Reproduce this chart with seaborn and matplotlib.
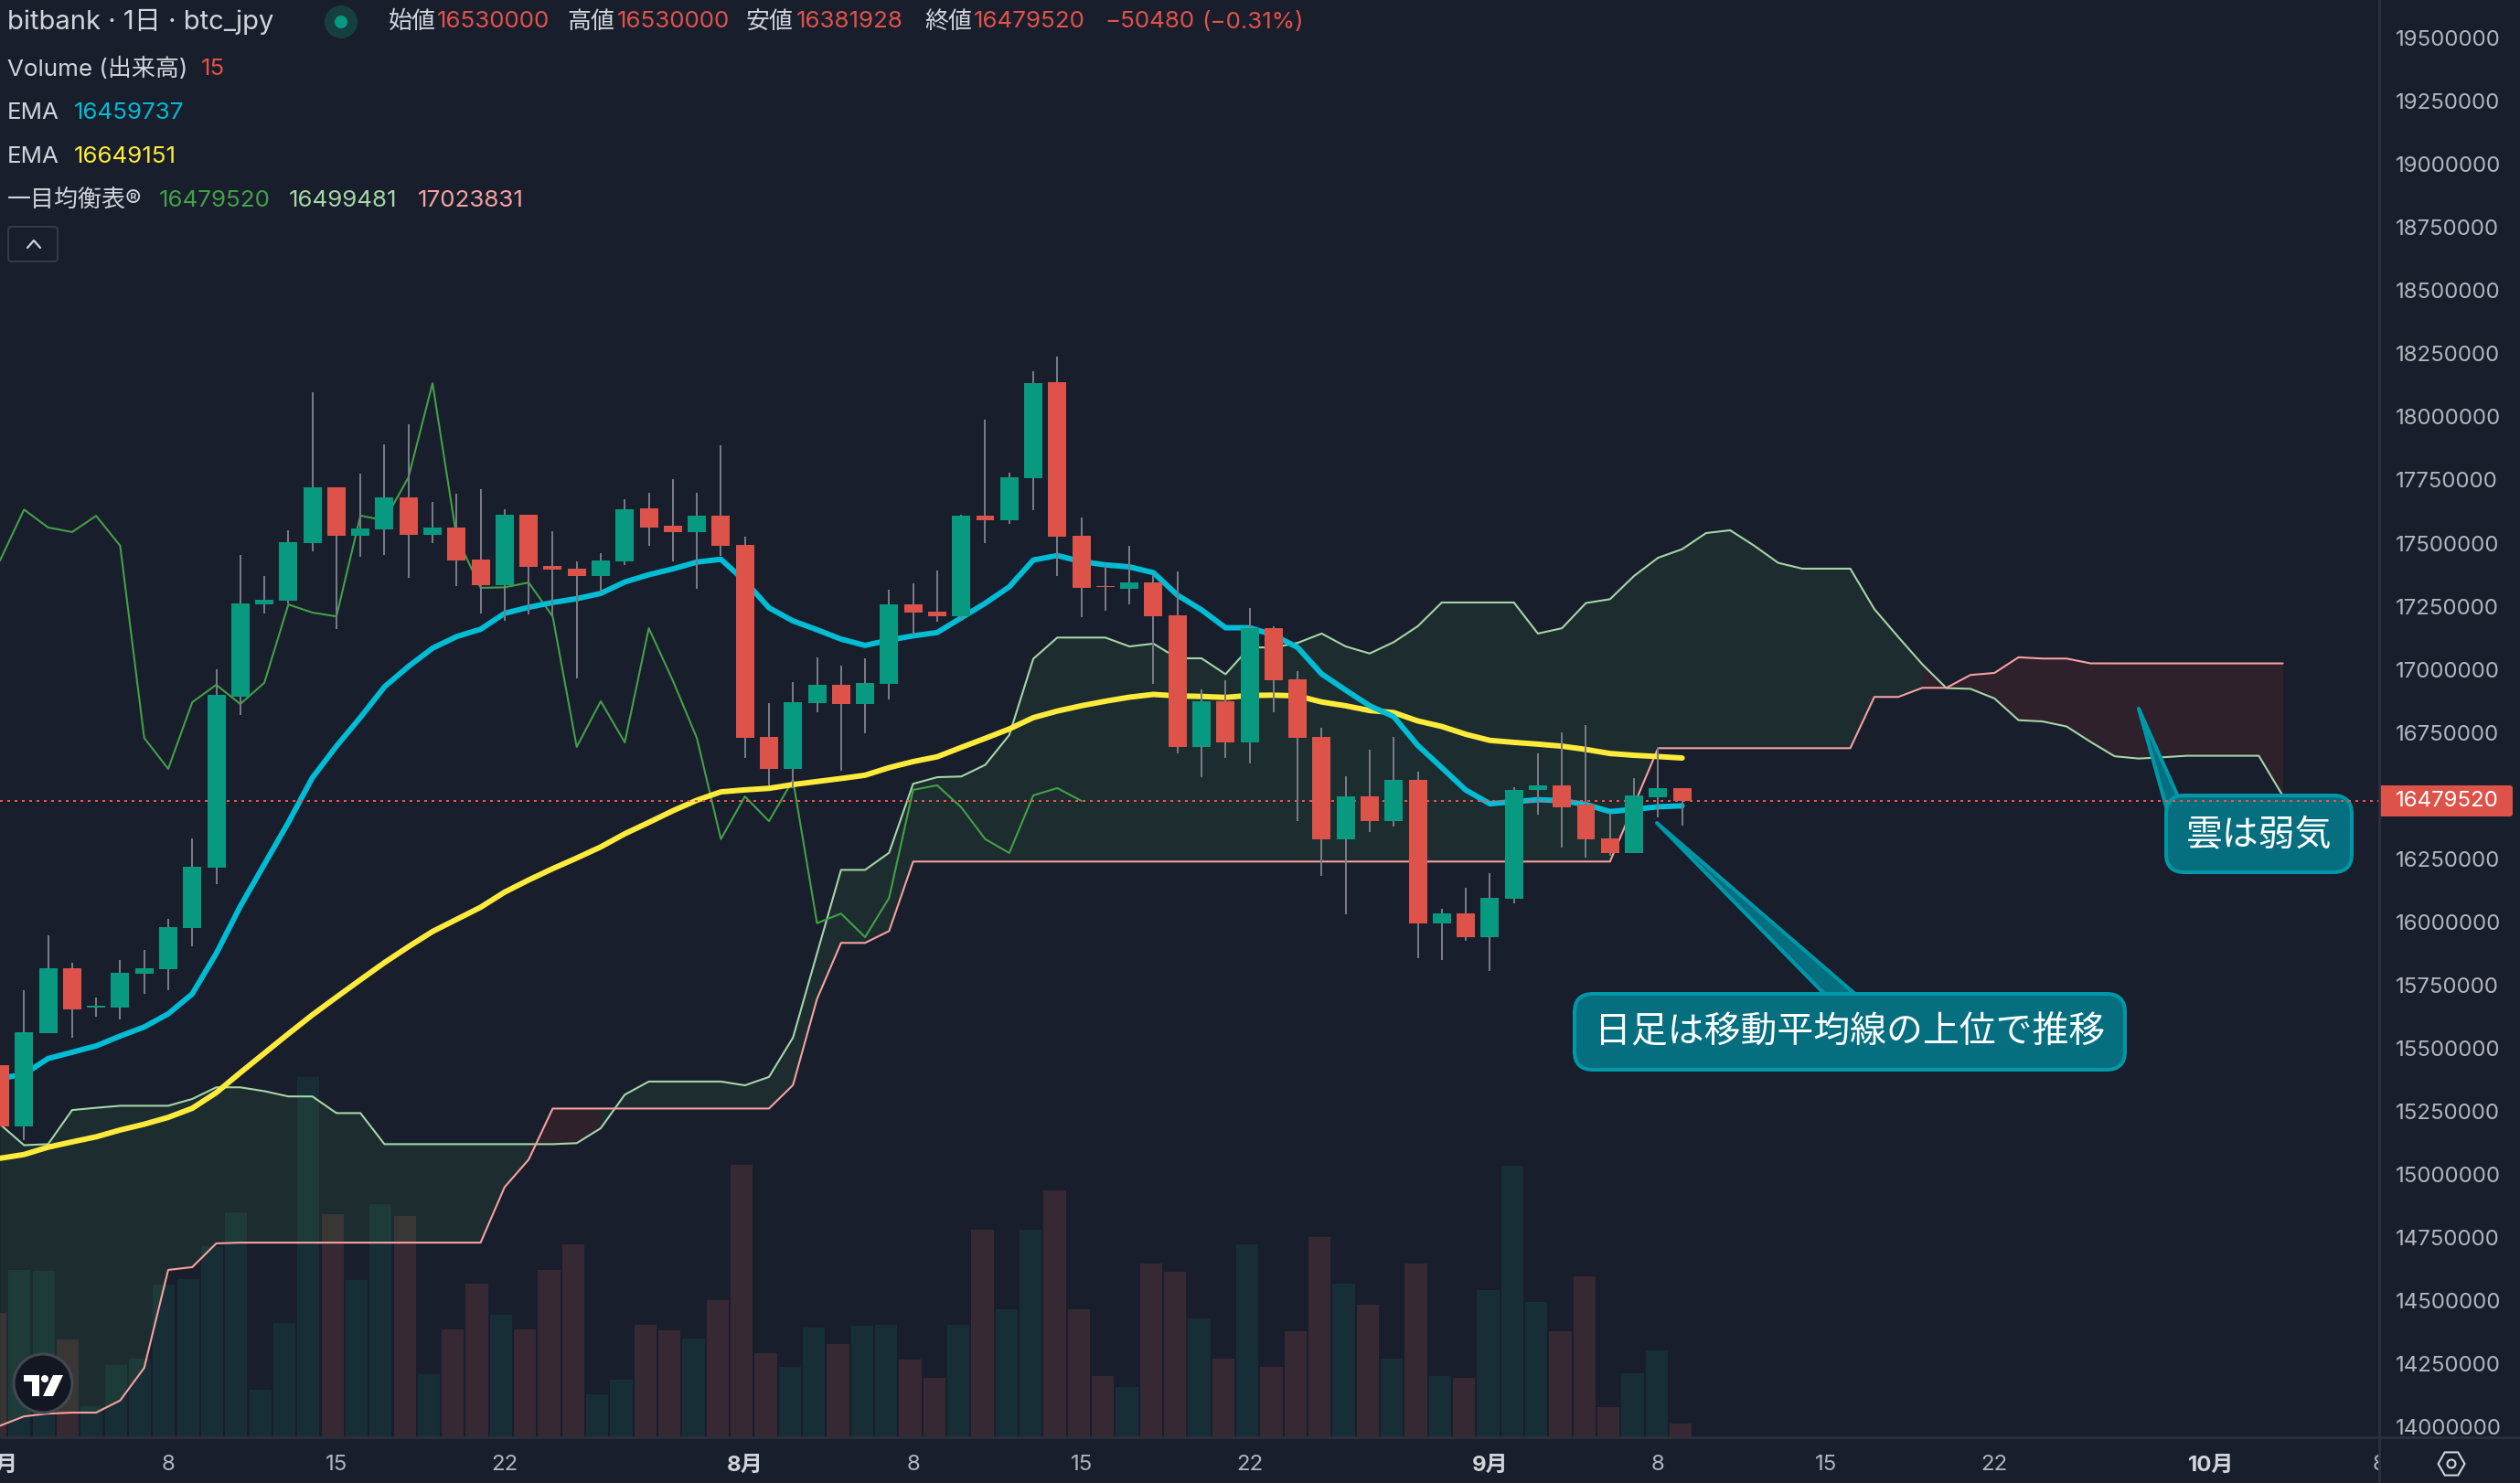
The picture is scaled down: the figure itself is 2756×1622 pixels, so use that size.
import numpy as np
import pandas as pd
import matplotlib
matplotlib.use("Agg")
import matplotlib.pyplot as plt
import seaborn as sns
from matplotlib.patches import FancyBboxPatch, Polygon, Circle, RegularPolygon
from matplotlib.transforms import Affine2D, Bbox, TransformedBbox, IdentityTransform
from matplotlib.lines import Line2D

# daily candles, index 0 = 1 Jul
opens = [15434000, 15189000, 15559000, 15817000, 15661000, 15661000, 15794000, 15812000, 15977000, 16216000,
         16893000, 17257000, 17271000, 17500000, 17720000, 17529000, 17554000, 17681000, 17533000, 17562000,
         17436000, 17334000, 17612000, 17409000, 17398000, 17369000, 17427000, 17637000, 17569000, 17544000,
         17608000, 17494000, 16733000, 16606000, 16866000, 16939000, 16863000, 16942000, 17257000, 17228000,
         17210000, 17609000, 17590000, 17756000, 18138000, 17529000, 17330000, 17318000, 17344000, 17213000,
         16693000, 16874000, 16711000, 17163000, 16961000, 16733000, 16328000, 16497000, 16399000, 16562000,
         15995000, 16033000, 15940000, 16092000, 16523000, 16541000, 16465000, 16331000, 16273000, 16494000,
         16530000]
highs = [15434000, 15729000, 15947000, 15837000, 15700000, 15850000, 15889000, 16012000, 16330000, 17001000,
         17452000, 17369000, 17550000, 18097000, 17720000, 17776000, 17891000, 17970000, 17662000, 17695000,
         17712000, 17633000, 17612000, 17548000, 17427000, 17461000, 17675000, 17700000, 17754000, 17700000,
         17887000, 17525000, 16866000, 16949000, 17047000, 17015000, 17044000, 17315000, 17341000, 17391000,
         17613000, 17989000, 17779000, 18182000, 18238000, 17601000, 17414000, 17490000, 17372000, 17388000,
         16921000, 16956000, 17242000, 17171000, 16994000, 16769000, 16577000, 16682000, 16733000, 16594000,
         16051000, 16135000, 16193000, 16533000, 16667000, 16751000, 16780000, 16433000, 16570000, 16688000,
         16530000]
lows = [15189000, 15137000, 15559000, 15542000, 15625000, 15615000, 15715000, 15729000, 15902000, 16151000,
        16820000, 17222000, 17263000, 17469000, 17161000, 17446000, 17452000, 17361000, 17500000, 17330000,
        17222000, 17192000, 17217000, 17213000, 16964000, 17305000, 17413000, 17490000, 17427000, 17319000,
        17450000, 16650000, 16540000, 16529000, 16831000, 16599000, 16748000, 16880000, 17136000, 17188000,
        17200000, 17499000, 17575000, 17632000, 17370000, 17207000, 17233000, 17257000, 16942000, 16667000,
        16575000, 16649000, 16628000, 16830000, 16399000, 16182000, 16032000, 16357000, 16376000, 15856000,
        15848000, 15925000, 15807000, 16072000, 16425000, 16295000, 16255000, 16263000, 16273000, 16414000,
        16381928]
closes = [15189000, 15563000, 15817000, 15652000, 15667000, 15798000, 15817000, 15979000, 16218000, 16899000,
          17261000, 17276000, 17504000, 17720000, 17529000, 17558000, 17681000, 17533000, 17562000, 17431000,
          17334000, 17612000, 17407000, 17394000, 17369000, 17431000, 17633000, 17562000, 17544000, 17608000,
          17490000, 16729000, 16606000, 16870000, 16939000, 16863000, 16947000, 17257000, 17225000, 17210000,
          17609000, 17590000, 17761000, 18133000, 17525000, 17323000, 17325000, 17344000, 17210000, 16693000,
          16874000, 16711000, 17163000, 16956000, 16728000, 16328000, 16497000, 16399000, 16562000, 15995000,
          16033000, 15940000, 16095000, 16523000, 16541000, 16454000, 16328000, 16273000, 16501000, 16530000,
          16479520]
volumes = [136, 183, 182, 107, 34, 79, 86, 167, 173, 209, 246, 52, 125, 394, 244, 172, 255, 242, 69, 118,
           168, 134, 118, 183, 211, 47, 63, 123, 117, 108, 150, 298, 92, 77, 120, 102, 122, 123, 85, 65,
           123, 227, 140, 227, 270, 140, 67, 55, 190, 181, 130, 86, 211, 77, 116, 219, 168, 145, 86, 190,
           67, 65, 161, 297, 148, 116, 176, 33, 70, 95, 15]
ema_fast = [15380000, 15397000, 15459000, 15484000, 15509000, 15548000, 15584000, 15636000, 15715000, 15875000,
            16062000, 16228000, 16394000, 16571000, 16696000, 16810000, 16931000, 17012000, 17084000, 17130000,
            17159000, 17222000, 17246000, 17265000, 17280000, 17301000, 17346000, 17375000, 17398000, 17425000,
            17436000, 17350000, 17244000, 17192000, 17157000, 17120000, 17095000, 17116000, 17133000, 17146000,
            17204000, 17262000, 17327000, 17433000, 17451000, 17427000, 17414000, 17406000, 17383000, 17294000,
            17236000, 17165000, 17165000, 17136000, 17087000, 16982000, 16918000, 16856000, 16813000, 16699000,
            16611000, 16522000, 16468000, 16476000, 16484000, 16480000, 16465000, 16437000, 16446000, 16456000,
            16459737]
ema_slow = [15064000, 15079000, 15108000, 15129000, 15149000, 15176000, 15199000, 15226000, 15262000, 15324000,
            15403000, 15480000, 15557000, 15632000, 15702000, 15771000, 15839000, 15902000, 15962000, 16010000,
            16058000, 16118000, 16166000, 16211000, 16253000, 16297000, 16349000, 16394000, 16440000, 16482000,
            16515000, 16523000, 16529000, 16544000, 16556000, 16568000, 16581000, 16611000, 16635000, 16654000,
            16691000, 16727000, 16764000, 16809000, 16835000, 16856000, 16874000, 16890000, 16901000, 16895000,
            16893000, 16889000, 16897000, 16898000, 16895000, 16871000, 16856000, 16837000, 16829000, 16796000,
            16774000, 16743000, 16719000, 16711000, 16704000, 16696000, 16683000, 16667000, 16660000, 16655000,
            16649151]
# cloud runs 25 days past the last candle
span_a = [15199000, 15116000, 15120000, 15255000, 15264000, 15272000, 15272000, 15272000, 15299000, 15345000,
          15345000, 15330000, 15309000, 15309000, 15243000, 15243000, 15120000, 15120000, 15120000, 15120000,
          15120000, 15120000, 15120000, 15120000, 15124000, 15183000, 15316000, 15368000, 15368000, 15368000,
          15368000, 15353000, 15386000, 15542000, 15875000, 16206000, 16206000, 16274000, 16547000, 16573000,
          16576000, 16622000, 16740000, 17042000, 17126000, 17126000, 17126000, 17091000, 17102000, 17044000,
          17044000, 16981000, 17087000, 17087000, 17105000, 17142000, 17091000, 17063000, 17108000, 17171000,
          17265000, 17265000, 17265000, 17265000, 17142000, 17163000, 17263000, 17278000, 17370000, 17442000,
          17476000, 17540000, 17551000, 17490000, 17422000, 17399000, 17399000, 17399000, 17239000, 17128000,
          17020000, 16926000, 16923000, 16885000, 16799000, 16794000, 16774000, 16713000, 16656000, 16647000,
          16652000, 16658000, 16658000, 16658000, 16658000, 16499481]
span_b = [14005000, 14042000, 14053000, 14057000, 14057000, 14105000, 14234000, 14622000, 14633000, 14727000,
          14730000, 14730000, 14730000, 14730000, 14730000, 14730000, 14730000, 14730000, 14730000, 14730000,
          14730000, 14950000, 15059000, 15261000, 15261000, 15261000, 15261000, 15261000, 15261000, 15261000,
          15261000, 15261000, 15261000, 15354000, 15695000, 15917000, 15917000, 15964000, 16239000, 16239000,
          16239000, 16239000, 16239000, 16239000, 16239000, 16239000, 16239000, 16239000, 16239000, 16239000,
          16239000, 16239000, 16239000, 16239000, 16239000, 16239000, 16239000, 16239000, 16239000, 16239000,
          16239000, 16239000, 16239000, 16239000, 16239000, 16239000, 16239000, 16239000, 16463000, 16688000,
          16688000, 16688000, 16688000, 16688000, 16688000, 16688000, 16688000, 16688000, 16891000, 16891000,
          16927000, 16927000, 16978000, 16986000, 17048000, 17043000, 17043000, 17024000, 17023831, 17023831,
          17023831, 17023831, 17023831, 17023831, 17023831, 17023831]

price_ticks = [14000000, 14250000, 14500000, 14750000, 15000000, 15250000, 15500000, 15750000, 16000000, 16250000,
               16500000, 16750000, 17000000, 17250000, 17500000, 17750000, 18000000, 18250000, 18500000, 18750000,
               19000000, 19250000, 19500000]
date_ticks = [0, 7, 14, 21, 31, 38, 45, 52, 62, 69, 76, 83, 92, 99]
date_labels = ["7月", "8", "15", "22", "8月", "8", "15", "22", "9月", "8", "15", "22", "10月", "8"]

BG = "#181e2b"
UP = "#089981"
DOWN = "#dd5349"
GRID_LINE = "#2c303c"
TXT = "#d1d4dc"
TICK = "#b2b5be"
FAST = "#00bcd4"
SLOW = "#ffeb3b"
CONV = "#43a047"
LEAD_A = "#a5d6a7"
LEAD_B = "#f7a1a1"
HEAD_RED = "#e2524b"
UI_FONT = ["Inter", "Noto Sans CJK JP"]

sns.set_theme(style="dark", rc={"figure.facecolor": BG, "axes.facecolor": BG, "figure.dpi": 100})
plt.rcParams["font.family"] = UI_FONT

idx = np.arange(len(closes))
candles = pd.DataFrame({"idx": idx, "open": opens, "high": highs, "low": lows, "close": closes, "vol": volumes})
candles["dir"] = np.where(candles["close"] >= candles["open"], "up", "down")
# a few volume bars follow the previous close, not the open
cloud_x = np.arange(len(span_a))

fig = plt.figure(figsize=(27.56, 16.22))
rect = [0, 50 / 1622, 2602 / 2756, 1572 / 1622]
ax_vol = fig.add_axes(rect, zorder=0)
ax = fig.add_axes(rect, zorder=1)
ax.patch.set_visible(False)

# pixel coords (top-left origin) for the overlays
pix = Affine2D().scale(1, -1).translate(0, 1622)

# volume
sns.barplot(data=candles, x="idx", y="vol", hue="dir", palette={"up": UP, "down": "#ef5350"},
            native_scale=True, dodge=False, width=0.92, alpha=0.16, linewidth=0,
            errorbar=None, legend=False, ax=ax_vol)
ax_vol.set_xlim(0.19, 99.01)
ax_vol.set_ylim(0, 1572)
ax_vol.set_axis_off()

# cloud
a = np.array(span_a)
b = np.array(span_b)
is_up = a > b
start = 0
for i in range(1, len(cloud_x)):
    if i == len(cloud_x) - 1 or is_up[i + 1] != is_up[i]:
        ax.fill_between(cloud_x[start:i + 1], a[start:i + 1], b[start:i + 1],
                        color="#4caf50" if is_up[i] else "#f44336", alpha=0.1, linewidth=0, zorder=1)
        start = i

sns.lineplot(x=cloud_x, y=span_a, color=LEAD_A, linewidth=1.5, estimator=None, zorder=2, ax=ax)
sns.lineplot(x=cloud_x, y=span_b, color=LEAD_B, linewidth=1.5, estimator=None, zorder=2, ax=ax)
# lagging line = closes moved back 25 days
sns.lineplot(x=idx - 25, y=closes, color=CONV, linewidth=1.5, estimator=None, zorder=2.5, ax=ax)
sns.lineplot(x=idx, y=ema_slow, color=SLOW, linewidth=4.3, estimator=None, zorder=3,
             solid_capstyle="round", ax=ax)
sns.lineplot(x=idx, y=ema_fast, color=FAST, linewidth=4.3, estimator=None, zorder=3.1,
             solid_capstyle="round", ax=ax)

ax.axhline(closes[-1], color="#ef5350", linewidth=1.44, linestyle=(0, (1.5, 2.5)), zorder=5)

# candles
colors = [UP if d == "up" else DOWN for d in candles["dir"]]
ax.vlines(candles["idx"], candles["low"], candles["high"], color="#787b86", linewidth=1.44, zorder=6)
body = (candles["close"] - candles["open"]).abs()
ax.bar(candles["idx"], body, bottom=candles[["open", "close"]].min(axis=1), width=0.76, color=colors,
       linewidth=0, zorder=7)

ax.set_xlim(0.19, 99.01)
ax.set_ylim(13959217, 19650800)
ax.set_xlabel("")
ax.set_ylabel("")
ax.yaxis.tick_right()
ax.set_yticks(price_ticks)
ax.set_yticklabels([str(t) for t in price_ticks], fontsize=17.3, color=TICK)
ax.set_xticks(date_ticks)
ax.set_xticklabels(date_labels, fontsize=17.3, color=TICK)
ax.tick_params(axis="y", length=0, pad=13)
ax.tick_params(axis="x", length=0, pad=14)
ax.grid(False)
for lab in ax.get_xticklabels():
    if "月" in lab.get_text():
        lab.set_fontweight("bold")
        lab.set_color(TXT)
    lab.set_clip_on(True)
    lab.set_clip_box(TransformedBbox(Bbox([[0, 0], [2602, 1622]]), IdentityTransform()))
for s in ax.spines.values():
    s.set_visible(False)
fig.add_artist(Line2D([2602, 2602], [0, 1622], transform=IdentityTransform(), color=GRID_LINE, linewidth=2))
fig.add_artist(Line2D([0, 2756], [50, 50], transform=IdentityTransform(), color=GRID_LINE, linewidth=2))

# callouts
CALL_FILL = "#056f80"
CALL_EDGE = "#0097a7"


def callout(box, pointer, text):
    x0, y0, x1, y1 = box
    ax.add_patch(Polygon(pointer, closed=True, facecolor=CALL_FILL, edgecolor=CALL_EDGE, linewidth=2.9,
                         joinstyle="round", transform=pix, clip_on=False, zorder=4))
    ax.add_patch(FancyBboxPatch((x0, y0), x1 - x0, y1 - y0, boxstyle="round,pad=0,rounding_size=20",
                                facecolor=CALL_FILL, edgecolor=CALL_EDGE, linewidth=2.9, transform=pix,
                                clip_on=False, zorder=4.1))
    ax.add_patch(Polygon(pointer[1:], closed=True, facecolor=CALL_FILL, edgecolor="none",
                         transform=pix, clip_on=False, zorder=4.2))
    ax.text((x0 + x1) / 2, (y0 + y1) / 2 + 1, text, color="white", fontsize=28.7, ha="center", va="center",
            family="Noto Sans CJK JP", transform=pix, clip_on=False, zorder=4.3)


callout((1722, 1087, 2324, 1170), [(1812, 900), (2003, 1095), (2038, 1095)], "日足は移動平均線の上位で推移")
callout((2369, 870, 2572, 954), [(2339, 775), (2372, 893), (2385, 878)], "雲は弱気")

# last price tag
ax.add_patch(FancyBboxPatch((2602, 859), 146, 34, boxstyle="round,pad=0,rounding_size=3", facecolor=DOWN,
                            edgecolor="none", transform=pix, clip_on=False, zorder=8))
ax.text(2620, 876, str(closes[-1]), color="white", fontsize=17.3, va="center", ha="left", transform=pix,
        clip_on=False, zorder=9)


def head(x, y, s, color=TXT, size=18.7):
    ax.text(x, y, s, color=color, fontsize=size, ha="left", va="center", transform=pix, clip_on=False,
            zorder=10, family=UI_FONT)


# legend block
head(8, 24, "bitbank · 1日 · btc_jpy", size=21)
ax.add_patch(Circle((373, 24), 18, facecolor="#16403f", edgecolor="none", transform=pix, clip_on=False, zorder=10))
ax.add_patch(Circle((373, 24), 7, facecolor=UP, edgecolor="none", transform=pix, clip_on=False, zorder=11))
head(425, 24, "始値")
head(478, 24, str(opens[-1]), HEAD_RED)
head(620, 24, "高値")
head(675, 24, str(highs[-1]), HEAD_RED)
head(816, 24, "安値")
head(871, 24, str(lows[-1]), HEAD_RED)
head(1011, 24, "終値")
head(1065, 24, str(closes[-1]), HEAD_RED)
head(1208, 24, "−50480", HEAD_RED)
head(1314, 24, "(−0.31%)", HEAD_RED)
head(8, 75, "Volume (出来高)")
head(220, 75, str(volumes[-1]), HEAD_RED)
head(8, 123, "EMA")
head(81, 123, str(ema_fast[-1]), FAST)
head(8, 171, "EMA")
head(81, 171, str(ema_slow[-1]), SLOW)
head(8, 219, "一目均衡表®")
head(174, 219, str(closes[-1]), CONV)
head(316, 219, str(span_a[-1]), LEAD_A)
head(457, 219, str(span_b[-1]), LEAD_B)

# collapse button
ax.add_patch(FancyBboxPatch((9, 248), 54, 38, boxstyle="round,pad=0,rounding_size=4", facecolor="none",
                            edgecolor="#363a45", linewidth=1.44, transform=pix, clip_on=False, zorder=10))
ax.add_line(Line2D([30, 37, 44], [271, 263, 271], color=TXT, linewidth=1.6, transform=pix, clip_on=False, zorder=10))

# tv badge
ax.add_patch(Circle((47, 1513), 32, facecolor="#131722", edgecolor="#44484f", linewidth=2.2, transform=pix,
                    clip_on=False, zorder=10))
ax.add_patch(Polygon([(26, 1504), (43, 1504), (43, 1527), (35, 1527), (35, 1511), (26, 1511)], facecolor="white",
                     edgecolor="none", transform=pix, clip_on=False, zorder=11))
ax.add_patch(Circle((49, 1508), 4, facecolor="white", edgecolor="none", transform=pix, clip_on=False, zorder=11))
ax.add_patch(Polygon([(58, 1504), (69, 1504), (58, 1527), (47, 1527)], facecolor="white", edgecolor="none",
                     transform=pix, clip_on=False, zorder=11))

# settings icon
ax.add_patch(RegularPolygon((2681, 1601), 6, radius=14.5, orientation=np.pi / 2, facecolor="none", edgecolor=TXT,
                            linewidth=1.5, transform=pix, clip_on=False, zorder=10))
ax.add_patch(Circle((2681, 1601), 4.5, facecolor="none", edgecolor=TXT, linewidth=1.5, transform=pix, clip_on=False,
                    zorder=10))

fig.savefig("out.png", dpi=100, facecolor=BG)
